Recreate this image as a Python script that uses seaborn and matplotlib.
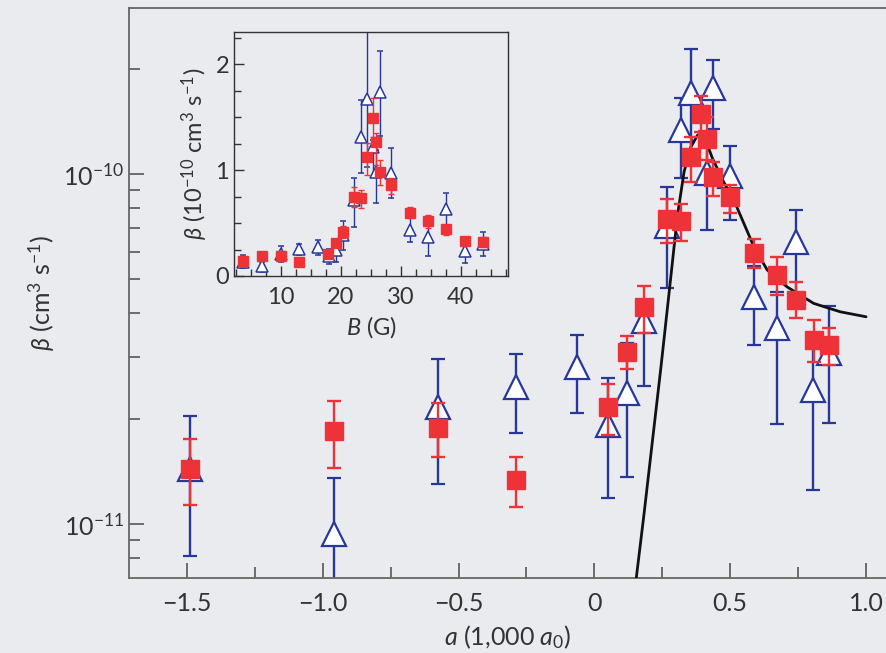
import matplotlib
matplotlib.use("Agg")
import matplotlib.pyplot as plt
import matplotlib.ticker as mticker
import numpy as np
import seaborn as sns

# main panel: a in units of 1,000 a0, beta in cm^3 s^-1
sq_a = [-1.49, -0.957, -0.577, -0.287, 0.049, 0.120, 0.181, 0.267, 0.318, 0.355,
        0.391, 0.416, 0.438, 0.500, 0.589, 0.673, 0.743, 0.807, 0.862]
sq_beta = [1.44e-11, 1.85e-11, 1.88e-11, 1.34e-11, 2.16e-11, 3.10e-11, 4.16e-11, 7.42e-11, 7.33e-11, 1.116e-10,
           1.483e-10, 1.256e-10, 9.79e-11, 8.58e-11, 5.95e-11, 5.14e-11, 4.38e-11, 3.36e-11, 3.24e-11]
sq_hi = [1.75e-11, 2.245e-11, 2.22e-11, 1.556e-11, 2.52e-11, 3.44e-11, 4.79e-11, 8.48e-11, 8.19e-11, 1.279e-10,
         1.671e-10, 1.456e-10, 1.084e-10, 9.31e-11, 6.52e-11, 5.81e-11, 4.92e-11, 3.83e-11, 3.62e-11]
sq_lo = [1.133e-11, 1.448e-11, 1.556e-11, 1.117e-11, 1.795e-11, 2.77e-11, 3.52e-11, 6.37e-11, 6.44e-11, 9.47e-11,
         1.318e-10, 1.096e-10, 8.65e-11, 7.75e-11, 5.38e-11, 4.51e-11, 3.87e-11, 2.90e-11, 2.85e-11]

tri_a = [-1.49, -0.958, -0.577, -0.287, -0.063, 0.049, 0.120, 0.181, 0.267, 0.318,
         0.357, 0.416, 0.438, 0.499, 0.589, 0.673, 0.743, 0.805, 0.862]
tri_beta = [1.44e-11, 9.40e-12, 2.16e-11, 2.47e-11, 2.81e-11, 1.92e-11, 2.37e-11, 3.81e-11, 7.10e-11, 1.336e-10,
            1.702e-10, 1.004e-10, 1.758e-10, 9.87e-11, 4.46e-11, 3.62e-11, 6.41e-11, 2.41e-11, 3.08e-11]
tri_hi = [2.04e-11, 1.352e-11, 2.96e-11, 3.06e-11, 3.47e-11, 2.62e-11, 3.30e-11, 4.30e-11, 9.20e-11, 1.644e-10,
          2.27e-10, 1.25e-10, 2.12e-10, 1.202e-10, 5.46e-11, 4.60e-11, 7.89e-11, 3.47e-11, 4.20e-11]
tri_lo = [8.11e-12, 6.5e-12, 1.306e-11, 1.815e-11, 2.075e-11, 1.184e-11, 1.365e-11, 2.48e-11, 4.74e-11, 9.72e-11,
          1.17e-10, 6.92e-11, 1.34e-10, 7.39e-11, 3.24e-11, 1.93e-11, 4.37e-11, 1.25e-11, 1.946e-11]

curve_a = [0.150, 0.183, 0.214, 0.245, 0.274, 0.306, 0.330, 0.355, 0.380, 0.406,
           0.434, 0.472, 0.513, 0.587, 0.636, 0.709, 0.807, 0.905, 1.000]
curve_beta = [6.6e-12, 1.074e-11, 1.738e-11, 2.81e-11, 4.51e-11, 7.64e-11, 1.013e-10, 1.194e-10, 1.292e-10, 1.267e-10,
              1.111e-10, 9.61e-11, 8.43e-11, 6.2e-11, 5.32e-11, 4.76e-11, 4.27e-11, 4.04e-11, 3.91e-11]

beta_ticks = [1e-11, 1e-10]
beta_tick_labels = ["10$^{-11}$", "10$^{-10}$"]
beta_minor = [7e-12, 8e-12, 9e-12, 2e-11, 3e-11, 4e-11, 5e-11, 6e-11, 7e-11, 8e-11, 9e-11, 2e-10]

# inset: B in G, beta in 1e-10 cm^3 s^-1
in_sq_B = [3.7, 6.9, 10.0, 13.0, 17.9, 19.1, 20.4, 22.2, 23.4, 24.3,
           25.3, 25.8, 26.5, 28.3, 31.5, 34.5, 37.5, 40.7, 43.7]
in_sq_v = [0.142, 0.189, 0.189, 0.132, 0.208, 0.308, 0.412, 0.748, 0.736, 1.119,
           1.494, 1.261, 0.984, 0.858, 0.597, 0.516, 0.440, 0.333, 0.324]
in_sq_hi = [0.17, 0.22, 0.24, 0.16, 0.25, 0.35, 0.47, 0.843, 0.811, 1.252,
            1.676, 1.35, 1.094, 0.921, 0.654, 0.575, 0.481, 0.371, 0.365]
in_sq_lo = [0.11, 0.16, 0.14, 0.11, 0.17, 0.27, 0.36, 0.654, 0.638, 0.953,
            1.314, 1.05, 0.858, 0.770, 0.544, 0.450, 0.387, 0.292, 0.277]

in_tri_B = [3.7, 6.9, 10.0, 13.0, 16.1, 18.0, 19.2, 20.4, 22.2, 23.4,
            24.3, 25.3, 25.9, 26.5, 28.3, 31.5, 34.5, 37.5, 40.7, 43.7]
in_tri_v = [0.135, 0.097, 0.208, 0.252, 0.277, 0.189, 0.245, 0.387, 0.717, 1.314,
            1.667, 1.22, 0.984, 1.733, 0.975, 0.434, 0.365, 0.629, 0.239, 0.299]
in_tri_hi = [0.198, 0.135, 0.286, 0.299, 0.340, 0.252, 0.277, 0.516, 0.921, 1.660,
             2.40, 1.283, 1.189, 2.126, 1.204, 0.544, 0.497, 0.786, 0.340, 0.418]
in_tri_lo = [0.072, 0.041, 0.129, 0.198, 0.198, 0.113, 0.135, 0.245, 0.465, 0.969,
             1.031, 0.937, 0.686, 1.321, 0.733, 0.324, 0.189, 0.434, 0.119, 0.189]

red = "#ee3338"
blue = "#27389a"
bg = "#e9ebef"

sns.set_style("ticks")
plt.rcParams["font.family"] = ["Lato", "DejaVu Sans"]
plt.rcParams["mathtext.fontset"] = "custom"
plt.rcParams["mathtext.rm"] = "Lato"
plt.rcParams["mathtext.it"] = "Lato:italic"
plt.rcParams["mathtext.fallback"] = "stixsans"
plt.rcParams["axes.unicode_minus"] = True


def errs(v, lo, hi):
    v = np.array(v)
    return [v - np.array(lo), np.array(hi) - v]


fig = plt.figure(figsize=(8.87, 6.53), dpi=100, facecolor=bg)
ax = fig.add_axes([129 / 887, 75.3 / 653, 758 / 887, 569.7 / 653], facecolor=bg)

sns.lineplot(x=curve_a, y=curve_beta, ax=ax, color="#111111", lw=2.0, sort=False, zorder=3)
ax.errorbar(tri_a, tri_beta, yerr=errs(tri_beta, tri_lo, tri_hi), fmt="^", ms=17,
            mfc="white", mec=blue, mew=1.6, color=blue, ecolor=blue, elinewidth=1.7,
            capsize=5, capthick=1.7, zorder=2)
ax.errorbar(sq_a, sq_beta, yerr=errs(sq_beta, sq_lo, sq_hi), fmt="s", ms=13,
            mfc=red, mec=red, color=red, ecolor=red, elinewidth=1.7,
            capsize=5, capthick=1.7, zorder=4)

ax.set_yscale("log")
ax.set_xlim(-1.713, 1.077)
ax.set_ylim(10 ** -11.153, 10 ** -9.526)
ax.xaxis.set_major_locator(mticker.MultipleLocator(0.5))
ax.xaxis.set_minor_locator(mticker.MultipleLocator(0.25))
ax.xaxis.set_major_formatter(mticker.FuncFormatter(
    lambda v, p: "0" if abs(v) < 1e-9 else f"{v:.1f}".replace("-", "\u2212")))
ax.yaxis.set_major_locator(mticker.FixedLocator(beta_ticks))
ax.yaxis.set_major_formatter(mticker.FixedFormatter(beta_tick_labels))
ax.yaxis.set_minor_locator(mticker.FixedLocator(beta_minor))
ax.yaxis.set_minor_formatter(mticker.NullFormatter())
ax.tick_params(which="both", direction="in", colors="#555555", labelcolor="#333333",
               labelsize=18, top=False, right=False)
ax.tick_params(which="major", length=11, width=1.2)
ax.tick_params(which="minor", length=8, width=1.2)
ax.tick_params(axis="x", pad=10)
for s in ["left", "bottom", "top"]:
    ax.spines[s].set_color("#666666")
    ax.spines[s].set_linewidth(1.3)
ax.spines["right"].set_visible(False)
ax.set_xlabel("$a$ (1,000 $a_0$)", fontsize=18, color="#333333", labelpad=6)
ax.set_ylabel("$\\beta$ (cm$^3$ s$^{-1}$)", fontsize=18, color="#333333", labelpad=4)

# inset
axi = fig.add_axes([234 / 887, 377 / 653, 274.3 / 887, 243.7 / 653], facecolor=bg)
axi.errorbar(in_tri_B, in_tri_v, yerr=errs(in_tri_v, in_tri_lo, in_tri_hi), fmt="^", ms=8,
             mfc="white", mec=blue, mew=1.1, color=blue, ecolor=blue, elinewidth=1.0,
             capsize=2, capthick=1.0, zorder=2)
axi.errorbar(in_sq_B, in_sq_v, yerr=errs(in_sq_v, in_sq_lo, in_sq_hi), fmt="s", ms=6.5,
             mfc=red, mec=red, color=red, ecolor=red, elinewidth=1.0,
             capsize=2, capthick=1.0, zorder=3)
axi.set_xlim(2.17, 47.9)
axi.set_ylim(0, 2.30)
axi.xaxis.set_major_locator(mticker.MultipleLocator(10))
axi.xaxis.set_minor_locator(mticker.MultipleLocator(2.5))
axi.yaxis.set_major_locator(mticker.MultipleLocator(1))
axi.yaxis.set_minor_locator(mticker.MultipleLocator(0.25))
axi.tick_params(which="both", direction="in", colors="#333333", labelsize=17, top=False, right=False)
axi.tick_params(which="major", length=7, width=1.0)
axi.tick_params(which="minor", length=5, width=1.0)
axi.tick_params(axis="x", pad=8)
for s in axi.spines.values():
    s.set_color("#333333")
    s.set_linewidth(1.0)
axi.set_xlabel("$B$ (G)", fontsize=17, color="#333333", labelpad=4)
axi.set_ylabel("$\\beta$ (10$^{-10}$ cm$^3$ s$^{-1}$)", fontsize=17, color="#333333", labelpad=4)

fig.savefig("out.png", dpi=100, facecolor=bg)
